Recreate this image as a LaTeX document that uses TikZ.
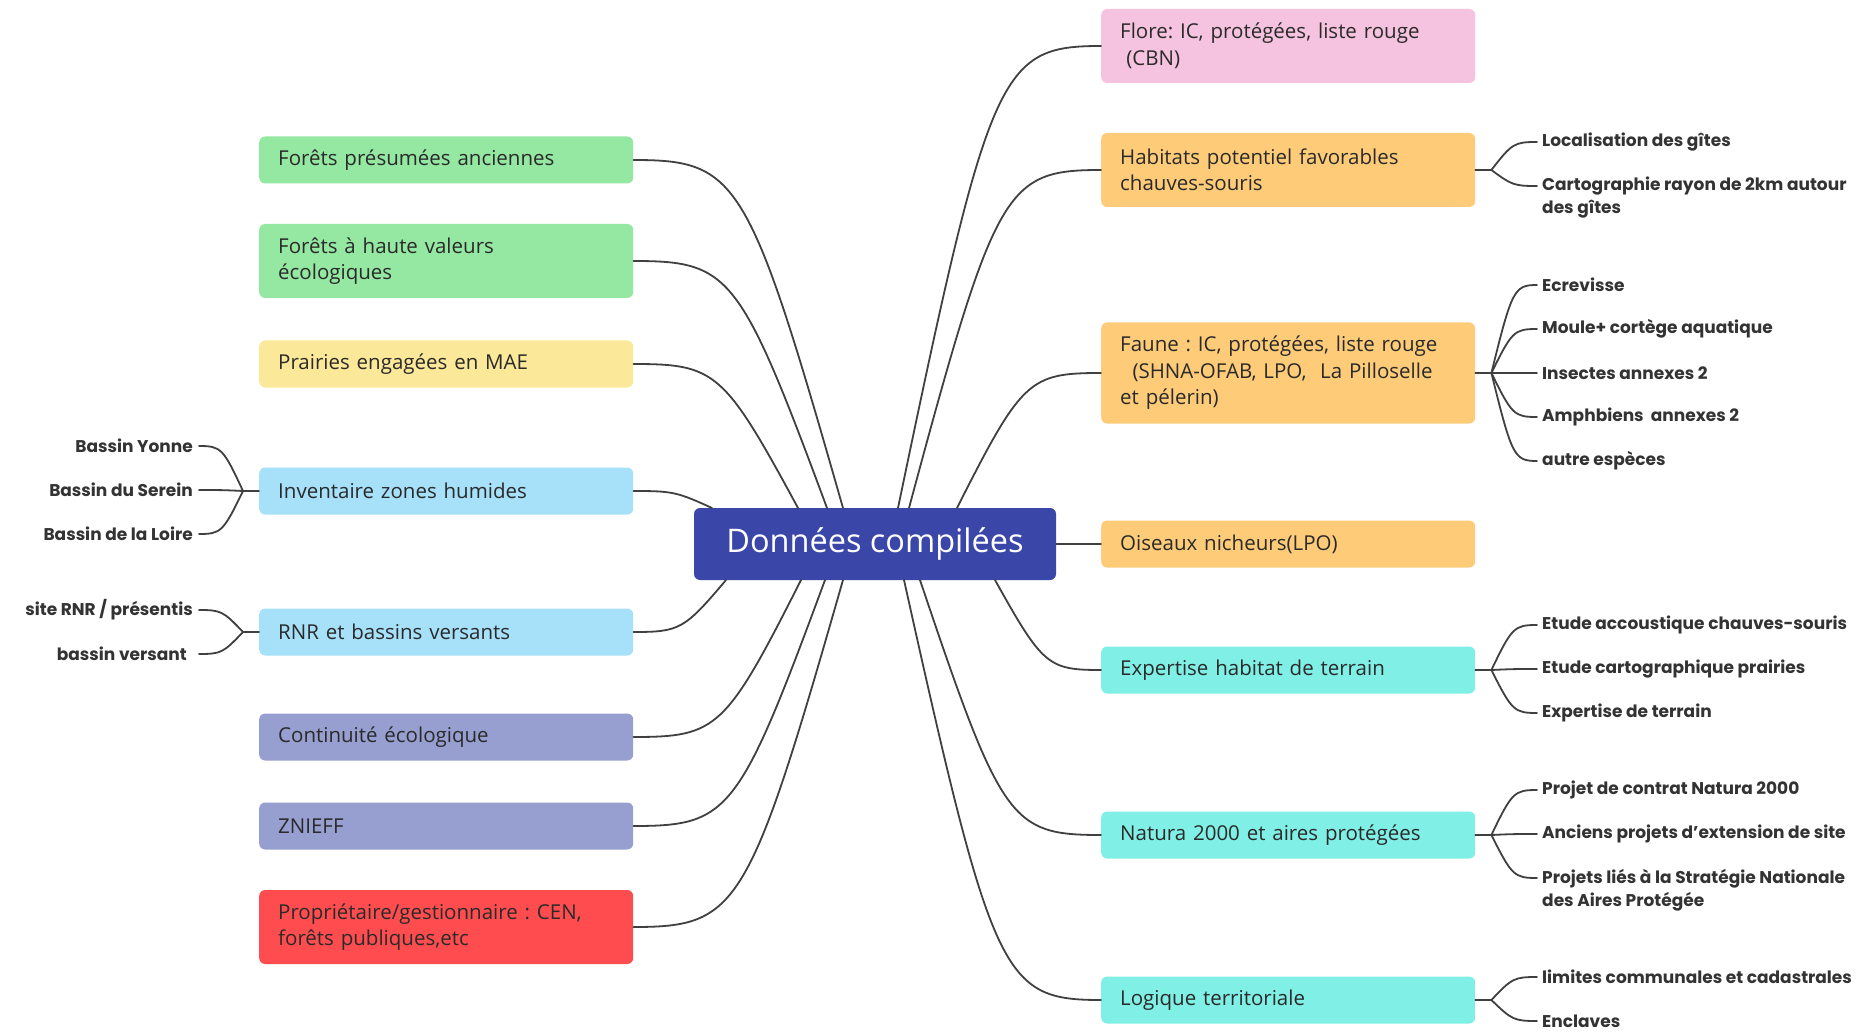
\documentclass[tikz,border=0pt]{standalone}
\usepackage{fontspec}
\setmainfont{Open Sans}
\newfontfamily\leaffont{Poppins}
\usetikzlibrary{calc}
\frenchspacing
\definecolor{cgreen}{HTML}{94E8A2}
\definecolor{cyellow}{HTML}{FCE899}
\definecolor{cblue}{HTML}{A6E0F9}
\definecolor{clav}{HTML}{979ED0}
\definecolor{cred}{HTML}{FF4D4F}
\definecolor{cpink}{HTML}{F5C3DF}
\definecolor{corange}{HTML}{FECB79}
\definecolor{cteal}{HTML}{80EFE5}
\definecolor{ccentral}{HTML}{3A46A8}
\definecolor{cline}{HTML}{404040}
\definecolor{ctext}{HTML}{2A2A2A}
\definecolor{cleaf}{HTML}{333333}
\newcommand\mmcurve[2]{\draw[conn] let \p1=(#1), \p2=(#2) in (\p1) .. controls ({\x1+0.45*(\x2-\x1)},{\y1+0.95*(\y2-\y1)}) and ({\x1+0.5*(\x2-\x1)},\y2) .. (\p2);}
\begin{document}
\frenchspacing
\begin{tikzpicture}[x=1pt,y=-1pt,
  box/.style={rectangle, rounded corners=6pt, minimum width=374pt, text width=336pt, inner xsep=19pt, inner ysep=4pt, align=left, font=\frenchspacing\fontsize{20.5}{26.5}\selectfont, text=ctext},
  one/.style={minimum height=47pt},
  two/.style={minimum height=74pt},
  three/.style={minimum height=101pt},
  leafR/.style={anchor=west, inner xsep=5pt, inner ysep=0pt, font=\leaffont\bfseries\fontsize{17}{23}\selectfont, align=left, text=cleaf},
  leafL/.style={anchor=east, inner xsep=6pt, inner ysep=0pt, font=\leaffont\bfseries\fontsize{17}{23}\selectfont, align=right, text=cleaf},
  conn/.style={draw=cline, line width=1.8pt, line cap=round},
]
\useasboundingbox (0,0) rectangle (1861,1032);
\fill[white] (0,0) rectangle (1861,1032);

% central
\node[rectangle, rounded corners=6pt, fill=ccentral, minimum width=362pt, minimum height=72pt, text=white, font=\fontsize{32.5}{36}\selectfont] (c) at (875,544) {Données compilées};

% left boxes
\node[box, one, fill=cgreen, anchor=west] (fpa) at (259,160) {Forêts présumées anciennes};
\node[box, two, fill=cgreen, anchor=west] (fhv) at (259,261) {Forêts à haute valeurs\\écologiques};
\node[box, one, fill=cyellow, anchor=west] (pem) at (259,364) {Prairies engagées en MAE};
\node[box, one, fill=cblue, anchor=west] (izh) at (259,491) {Inventaire zones humides};
\node[box, one, fill=cblue, anchor=west] (rnr) at (259,632) {RNR et bassins versants};
\node[box, one, fill=clav, anchor=west] (ce) at (259,737) {Continuité écologique};
\node[box, one, fill=clav, anchor=west] (zn) at (259,826) {ZNIEFF};
\node[box, two, fill=cred, anchor=west] (prop) at (259,927) {Propriétaire/gestionnaire : CEN,\\forêts publiques,etc};

% right boxes
\node[box, two, fill=cpink, anchor=west] (flo) at (1101,46) {Flore: IC, protégées, liste rouge\\\hspace*{0.3em}(CBN)};
\node[box, two, fill=corange, anchor=west] (hab) at (1101,170) {Habitats potentiel favorables\\chauves-souris};
\node[box, three, fill=corange, anchor=west] (fau) at (1101,373) {Faune : IC, protégées, liste rouge\\\hspace*{0.6em}(SHNA-OFAB, LPO,\ \ La Pilloselle\\et pélerin)};
\node[box, one, fill=corange, anchor=west] (ois) at (1101,544) {Oiseaux nicheurs(LPO)};
\node[box, one, fill=cteal, anchor=west] (exp) at (1101,670) {Expertise habitat de terrain};
\node[box, one, fill=cteal, anchor=west] (nat) at (1101,835) {Natura 2000 et aires protégées};
\node[box, one, fill=cteal, anchor=west] (log) at (1101,1000) {Logique territoriale};

% exit points on central node
\coordinate (eFPA) at (843,508);
\coordinate (eFHV) at (827,508);
\coordinate (ePEM) at (798,508);
\coordinate (eIZH) at (712,508);
\coordinate (eRNR) at (726,580);
\coordinate (eCE) at (801,580);
\coordinate (eZN) at (825,580);
\coordinate (ePROP) at (843,580);
\coordinate (eFLO) at (898,508);
\coordinate (eHAB) at (909,508);
\coordinate (eFAU) at (957,508);
\coordinate (eEXP) at (995,580);
\coordinate (eNAT) at (920,580);
\coordinate (eLOG) at (904,580);

\mmcurve{eFPA}{fpa.east}
\mmcurve{eFHV}{fhv.east}
\mmcurve{ePEM}{pem.east}
\mmcurve{eIZH}{izh.east}
\mmcurve{eRNR}{rnr.east}
\mmcurve{eCE}{ce.east}
\mmcurve{eZN}{zn.east}
\mmcurve{ePROP}{prop.east}
\mmcurve{eFLO}{flo.west}
\mmcurve{eHAB}{hab.west}
\mmcurve{eFAU}{fau.west}
\draw[conn] (c.east) -- (ois.west);
\mmcurve{eEXP}{exp.west}
\mmcurve{eNAT}{nat.west}
\mmcurve{eLOG}{log.west}

% junctions
\coordinate (jIZH) at ($(izh.west)+(-16,0)$);
\coordinate (jRNR) at ($(rnr.west)+(-16,0)$);
\coordinate (jHAB) at ($(hab.east)+(16,0)$);
\coordinate (jFAU) at ($(fau.east)+(16,0)$);
\coordinate (jEXP) at ($(exp.east)+(16,0)$);
\coordinate (jNAT) at ($(nat.east)+(16,0)$);
\coordinate (jLOG) at ($(log.east)+(16,0)$);
\draw[conn] (izh.west) -- (jIZH);
\draw[conn] (rnr.west) -- (jRNR);
\draw[conn] (hab.east) -- (jHAB);
\draw[conn] (fau.east) -- (jFAU);
\draw[conn] (exp.east) -- (jEXP);
\draw[conn] (nat.east) -- (jNAT);
\draw[conn] (log.east) -- (jLOG);

% left leaves
\node[leafL] (by) at (199,446) {Bassin Yonne};
\node[leafL] (bs) at (199,490) {Bassin du Serein};
\node[leafL] (bl) at (199,534) {Bassin de la Loire};
\node[leafL] (sr) at (199,610) {site RNR / présentis};
\node[leafL, inner xsep=12pt] (bv) at (199,654) {bassin versant};
\mmcurve{jIZH}{by.east}
\mmcurve{jIZH}{bs.east}
\mmcurve{jIZH}{bl.east}
\mmcurve{jRNR}{sr.east}
\mmcurve{jRNR}{bv.east}

% right leaves
\node[leafR] (lg) at (1537,142) {Localisation des gîtes};
\coordinate (kCR) at (1537,186);
\node[leafR] (cr) at (1537,198) {Cartographie rayon de 2km autour\\des gîtes};
\mmcurve{jHAB}{lg.west}
\mmcurve{jHAB}{kCR}

\node[leafR] (ecr) at (1537,285) {Ecrevisse};
\node[leafR] (mou) at (1537,329) {Moule+ cortège aquatique};
\node[leafR] (ins) at (1537,373) {Insectes annexes 2};
\node[leafR] (amp) at (1537,417) {Amphbiens\ \ annexes 2};
\node[leafR] (aut) at (1537,461) {autre espèces};
\mmcurve{jFAU}{ecr.west}
\mmcurve{jFAU}{mou.west}
\mmcurve{jFAU}{ins.west}
\mmcurve{jFAU}{amp.west}
\mmcurve{jFAU}{aut.west}

\node[leafR] (eac) at (1537,625) {Etude accoustique chauves-souris};
\node[leafR] (eca) at (1537,669) {Etude cartographique prairies};
\node[leafR] (edt) at (1537,713) {Expertise de terrain};
\mmcurve{jEXP}{eac.west}
\mmcurve{jEXP}{eca.west}
\mmcurve{jEXP}{edt.west}

\node[leafR] (pcn) at (1537,790) {Projet de contrat Natura 2000};
\node[leafR] (ape) at (1537,834) {Anciens projets d’extension de site};
\coordinate (kPL) at (1537,878);
\node[leafR] (pls) at (1537,890) {Projets liés à la Stratégie Nationale\\des Aires Protégée};
\mmcurve{jNAT}{pcn.west}
\mmcurve{jNAT}{ape.west}
\mmcurve{jNAT}{kPL}

\node[leafR] (lcc) at (1537,977) {limites communales et cadastrales};
\node[leafR] (enc) at (1537,1021) {Enclaves};
\mmcurve{jLOG}{lcc.west}
\mmcurve{jLOG}{enc.west}
\end{tikzpicture}
\end{document}
